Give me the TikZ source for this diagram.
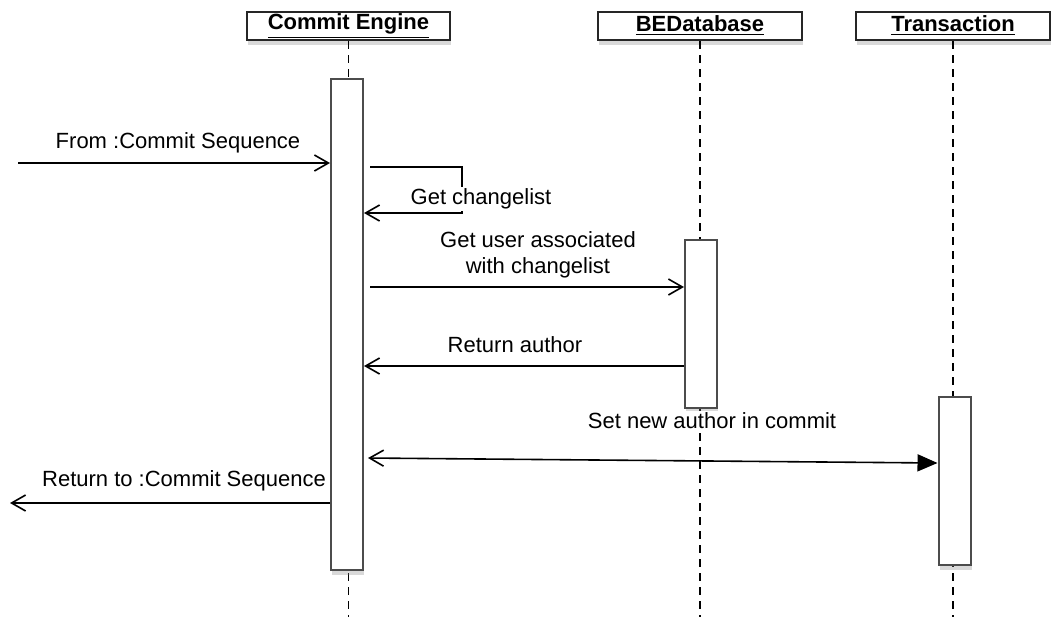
\documentclass[tikz,border=0pt]{standalone}
\usepackage{fontspec}
\setmainfont{Liberation Sans}
\usetikzlibrary{arrows.meta,shadows}

\begin{document}
\begin{tikzpicture}[x=0.5pt,y=-0.5pt,
    font=\fontsize{11}{13}\selectfont,
    head/.style={draw=black!85, line width=1pt, fill=white, minimum height=14pt, inner sep=0pt,
        font=\fontsize{11}{13}\selectfont\bfseries,
        drop shadow={shadow xshift=0.5pt, shadow yshift=-2.5pt, opacity=0.3}},
    bar/.style={draw=black!70, line width=1pt, fill=white, minimum width=16pt, inner sep=0pt,
        drop shadow={shadow xshift=0.5pt, shadow yshift=-2.5pt, opacity=0.3}},
    life/.style={dash pattern=on 4pt off 3pt, line width=0.8pt},
    msg/.style={line width=0.8pt, -{Straight Barb[length=7pt,width=8pt]}},
    lbl/.style={fill=white, inner sep=1pt}]
    \useasboundingbox (0,0) rectangle (1052,617);

    \node[head, minimum width=101.5pt] (ce) at (348.5,26) {\underline{Commit Engine}};
    \node[head, minimum width=102pt] (db) at (700,26) {\underline{BEDatabase}};
    \node[head, minimum width=97pt] (tx) at (953,26) {\underline{Transaction}};

    \coordinate (bottom) at (0,617);
    \draw[life] (ce.south) -- (ce.south |- bottom);
    \draw[life] (db.south) -- (db.south |- bottom);
    \draw[life] (tx.south) -- (tx.south |- bottom);

    \node[bar, minimum height=245.5pt] (cebar) at (347,324.5) {};
    \node[bar, minimum height=84pt] (dbbar) at (701,324) {};
    \node[bar, minimum height=84pt] (txbar) at (954.5,481) {};

    \coordinate (from) at (18,163);
    \coordinate (self1) at (370,167);
    \coordinate (self2) at (462,213);
    \coordinate (getuser) at (370,287);
    \coordinate (retauthor) at (0,366);
    \coordinate (setauthor) at (368,458);
    \coordinate (setend) at (0,463);
    \coordinate (retto) at (10,503);

    \draw[msg] (from) -- (cebar.west |- from);
    \draw[msg] (self1) -- (self1 -| self2) -- (self2) -- (cebar.east |- self2);
    \draw[msg] (getuser) -- (dbbar.west |- getuser);
    \draw[msg] (dbbar.west |- retauthor) -- (cebar.east |- retauthor);
    \draw[line width=0.8pt, {Straight Barb[length=7pt,width=8pt]}-{Triangle[length=10pt,width=8.5pt]}]
        (setauthor) -- (txbar.west |- setend);
    \draw[msg] (cebar.west |- retto) -- (retto);

    \node[lbl] (fromlbl) at (178,143) {From :Commit Sequence};
    \node[lbl] (changelbl) at (481,199) {Get changelist};
    \node[lbl, align=center] (userlbl) at (538,255) {Get user associated\\with changelist};
    \node[lbl] (authorlbl) at (515,345) {Return author};
    \node[lbl] (setlbl) at (712,421) {Set new author in commit};
    \node[lbl] (rettolbl) at (184,481) {Return to :Commit Sequence};
\end{tikzpicture}
\end{document}
